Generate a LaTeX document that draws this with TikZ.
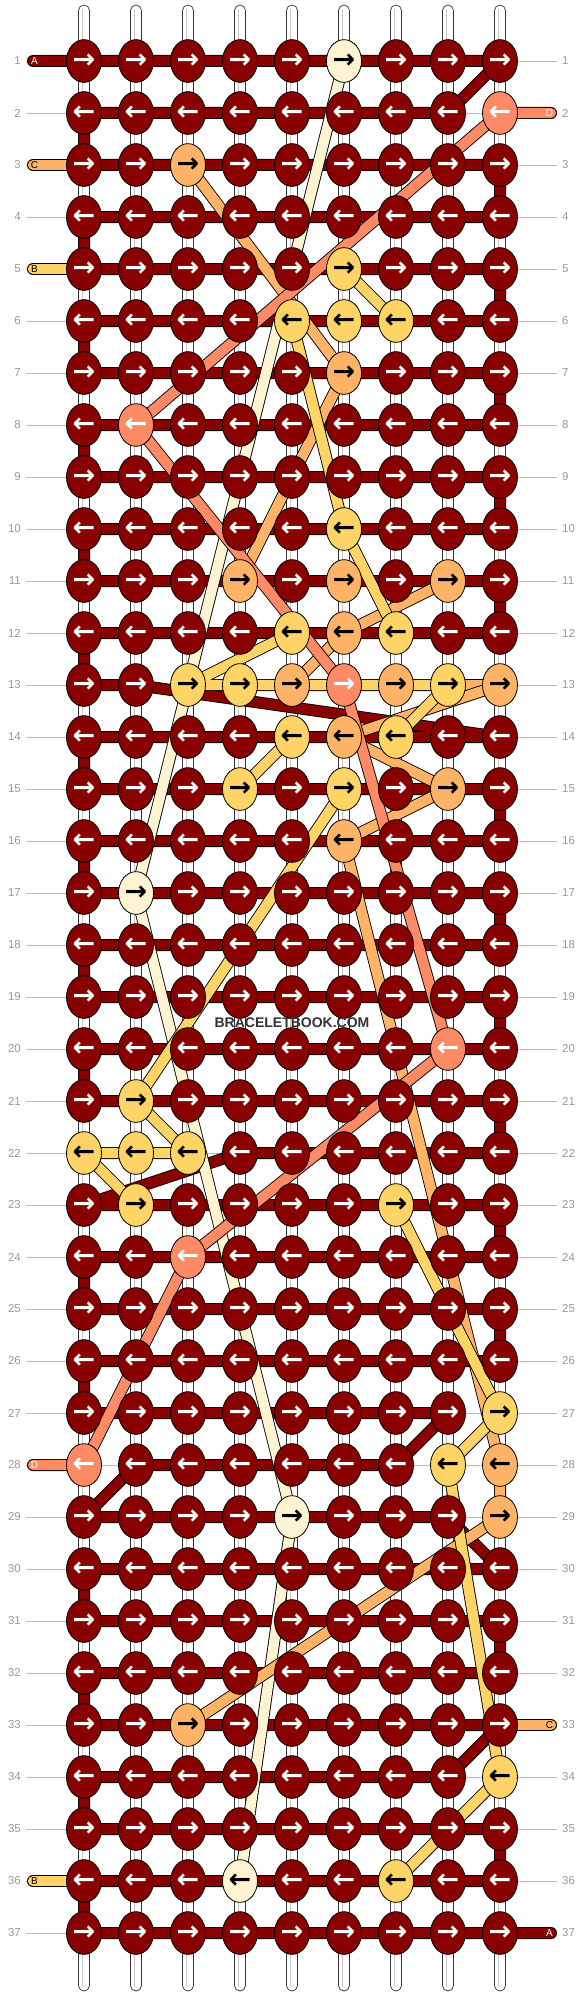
\documentclass[tikz,border=0pt]{standalone}
\usepackage{fontspec}
\setmainfont{Liberation Sans}
\newfontfamily\arrowfont{DejaVu Sans}
\usetikzlibrary{shapes.geometric}
\definecolor{colA}{HTML}{880000}
\definecolor{colB}{HTML}{FFD466}
\definecolor{colC}{HTML}{FFB366}
\definecolor{colD}{HTML}{FF8A66}
\definecolor{colE}{HTML}{FFF4D2}
\colorlet{txtA}{white}
\colorlet{txtB}{black}
\colorlet{txtC}{black}
\colorlet{txtD}{white}
\colorlet{txtE}{black}
\definecolor{guidegray}{HTML}{BBBBBB}
\definecolor{numgray}{HTML}{999999}
\newcommand\setknot[3]{\expandafter\def\csname kc-#1-#2\endcsname{#3}}
\newcommand\strand[2]{%
  \draw[line width=12pt, black, line cap=round, line join=round] #2;
  \draw[line width=10.2pt, #1, line cap=round, line join=round] #2;}
\setknot{1}{6}{E}
\setknot{2}{9}{D}
\setknot{3}{3}{C}
\setknot{5}{6}{B}
\setknot{6}{5}{B}\setknot{6}{6}{B}\setknot{6}{7}{B}
\setknot{7}{6}{C}
\setknot{8}{2}{D}
\setknot{10}{6}{B}
\setknot{11}{4}{C}\setknot{11}{6}{C}\setknot{11}{8}{C}
\setknot{12}{5}{B}\setknot{12}{6}{C}\setknot{12}{7}{B}
\setknot{13}{3}{B}\setknot{13}{4}{B}\setknot{13}{5}{C}\setknot{13}{6}{D}\setknot{13}{7}{C}\setknot{13}{8}{B}\setknot{13}{9}{C}
\setknot{14}{5}{B}\setknot{14}{6}{C}\setknot{14}{7}{B}
\setknot{15}{4}{B}\setknot{15}{6}{B}\setknot{15}{8}{C}
\setknot{16}{6}{C}
\setknot{17}{2}{E}
\setknot{20}{8}{D}
\setknot{21}{2}{B}
\setknot{22}{1}{B}\setknot{22}{2}{B}\setknot{22}{3}{B}
\setknot{23}{2}{B}\setknot{23}{7}{B}
\setknot{24}{3}{D}
\setknot{27}{9}{B}
\setknot{28}{1}{D}\setknot{28}{8}{B}\setknot{28}{9}{C}
\setknot{29}{5}{E}\setknot{29}{9}{C}
\setknot{33}{3}{C}
\setknot{34}{9}{B}
\setknot{36}{4}{E}\setknot{36}{7}{B}
\tikzset{
  knot/.style={ellipse, minimum width=35pt, minimum height=42.7pt, inner sep=0pt,
    draw=black, line width=0.8pt, font=\arrowfont\bfseries\fontsize{27}{27}\selectfont},
  rownum/.style={text=numgray, font=\fontsize{11.5}{12}\selectfont, inner sep=0pt},
  guide/.style={guidegray, line width=0.8pt},
  tube/.style={fill=white, draw=black!80, line width=0.7pt, rounded corners=5.5pt},
  tubeline/.style={black!22, line width=1.2pt},
  lab/.style={font=\fontsize{10}{10}\selectfont, inner sep=0pt},
  wmark/.style={font=\bfseries\fontsize{14}{14}\selectfont, text=black!80, inner sep=0pt}
}
\begin{document}
\begin{tikzpicture}[x=1pt, y=-1pt]
\fill[white] (0,0) rectangle (584,1996);
\useasboundingbox (0,0) rectangle (584,1996);
% grid coordinates, row numbers and guide lines
\foreach \r in {1,...,37}{
  \pgfmathsetmacro\yy{61+52*(\r-1)}
  \foreach \c in {1,...,9}{
    \coordinate (p-\r-\c) at ({84+52*(\c-1)},\yy);
  }
  \coordinate (tabL-\r) at (33,\yy);
  \coordinate (tabR-\r) at (551,\yy);
  \node[rownum, anchor=east] (nL-\r) at (21,\yy) {\r};
  \node[rownum, anchor=west] (nR-\r) at (562,\yy) {\r};
  \draw[guide] ([xshift=5pt]nL-\r.east) -- ([xshift=-5pt]nR-\r.west);
}
% vertical base strings
\foreach \c in {1,...,9}{
  \pgfmathsetmacro\xx{84+52*(\c-1)}
  \draw[tube] (\xx-5.5,5) rectangle (\xx+5.5,1991);
  \draw[tubeline] (\xx-1.5,9) -- (\xx-1.5,1987);
}
% strings running hidden along a row
\strand{colC}{(tabL-3) -- (p-3-3)}
\strand{colB}{(tabL-5) -- (p-5-6)}
\strand{colB}{(p-6-7) -- (p-6-5)}
\strand{colC}{(p-11-4) -- (p-11-8)}
\strand{colB}{(p-12-7) -- (p-12-5)}
\strand{colC}{(p-13-5) -- (p-13-9)}
\strand{colB}{(p-14-7) -- (p-14-5)}
\strand{colB}{(p-15-4) -- (p-15-6)}
\strand{colB}{(p-23-2) -- (p-23-7)}
\strand{colC}{(p-33-3) -- (tabR-33)}
\strand{colB}{(p-36-7) -- (tabL-36)}
% string A
\strand{colA}{(tabL-1) -- (p-1-9) -- (p-2-8) -- (p-2-1) -- (p-3-1) -- (p-3-9) -- (p-4-9) -- (p-4-1)
 -- (p-5-1) -- (p-5-9) -- (p-6-9) -- (p-6-1) -- (p-7-1) -- (p-7-9) -- (p-8-9) -- (p-8-1)
 -- (p-9-1) -- (p-9-9) -- (p-10-9) -- (p-10-1) -- (p-11-1) -- (p-11-9) -- (p-12-9) -- (p-12-1)
 -- (p-13-1) -- (p-13-2) -- (p-14-9) -- (p-14-1) -- (p-15-1) -- (p-15-9) -- (p-16-9) -- (p-16-1)
 -- (p-17-1) -- (p-17-9) -- (p-18-9) -- (p-18-1) -- (p-19-1) -- (p-19-9) -- (p-20-9) -- (p-20-1)
 -- (p-21-1) -- (p-21-9) -- (p-22-9) -- (p-22-4) -- (p-23-1) -- (p-23-9) -- (p-24-9) -- (p-24-1)
 -- (p-25-1) -- (p-25-9) -- (p-26-9) -- (p-26-1) -- (p-27-1) -- (p-27-8) -- (p-28-7) -- (p-28-2)
 -- (p-29-1) -- (p-29-8) -- (p-30-9) -- (p-30-1) -- (p-31-1) -- (p-31-9) -- (p-32-9) -- (p-32-1)
 -- (p-33-1) -- (p-33-9) -- (p-34-8) -- (p-34-1) -- (p-35-1) -- (p-35-9) -- (p-36-9) -- (p-36-1)
 -- (p-37-1) -- (tabR-37)}
% coloured strings between rows
\strand{colE}{(p-1-6) -- (p-17-2) -- (p-29-5) -- (p-36-4)}
\strand{colC}{(p-3-3) -- (p-7-6) -- (p-11-4)}
\strand{colC}{(p-11-8) -- (p-12-6) -- (p-13-5)}
\strand{colC}{(p-13-9) -- (p-14-6) -- (p-15-8) -- (p-16-6) -- (p-28-9) -- (p-29-9) -- (p-33-3)}
\strand{colD}{(tabR-2) -- (p-2-9) -- (p-8-2) -- (p-13-6) -- (p-20-8) -- (p-24-3) -- (p-28-1) -- (tabL-28)}
\strand{colB}{(p-5-6) -- (p-6-7)}
\strand{colB}{(p-6-5) -- (p-10-6) -- (p-12-7)}
\strand{colB}{(p-12-5) -- (p-13-3) -- (p-13-8) -- (p-14-7)}
\strand{colB}{(p-14-5) -- (p-15-4)}
\strand{colB}{(p-15-6) -- (p-21-2) -- (p-22-3) -- (p-22-1) -- (p-23-2)}
\strand{colB}{(p-23-7) -- (p-27-9) -- (p-28-8) -- (p-34-9) -- (p-36-7)}
% knots
\foreach \r in {1,...,37}{\foreach \c in {1,...,9}{
  \ifcsname kc-\r-\c\endcsname \edef\kcol{\csname kc-\r-\c\endcsname}\else\def\kcol{A}\fi
  \edef\kfill{col\kcol}\edef\ktext{txt\kcol}
  \ifodd\r\relax \def\karr{→}\else\def\karr{←}\fi
  \node[knot, fill=\kfill, text=\ktext] (k-\r-\c) at (p-\r-\c) {\karr};
}}
% string labels
\node[lab, text=white] (lA1) at ([xshift=1.5pt]tabL-1) {A};
\node[lab, text=black] (lC3) at ([xshift=1.5pt]tabL-3) {C};
\node[lab, text=black] (lB5) at ([xshift=1.5pt]tabL-5) {B};
\node[lab, text=white] (lD28) at ([xshift=1.5pt]tabL-28) {D};
\node[lab, text=black] (lB36) at ([xshift=1.5pt]tabL-36) {B};
\node[lab, text=white] (lD2) at ([xshift=-1.5pt]tabR-2) {D};
\node[lab, text=black] (lC33) at ([xshift=-1.5pt]tabR-33) {C};
\node[lab, text=white] (lA37) at ([xshift=-1.5pt]tabR-37) {A};
\node[wmark] (wm) at (292,1023) {BRACELETBOOK.COM};
\end{tikzpicture}
\end{document}
